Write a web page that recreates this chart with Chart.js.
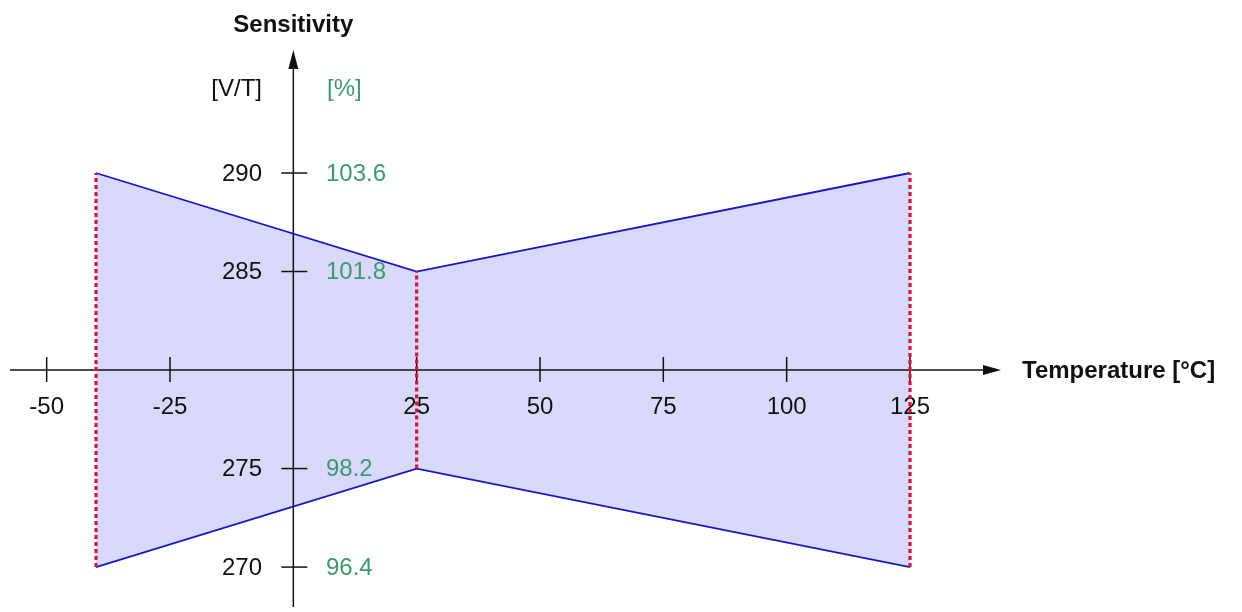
<!DOCTYPE html>
<html>
<head>
<meta charset="utf-8">
<script src="https://cdn.jsdelivr.net/npm/chart.js@4/dist/chart.umd.min.js"></script>
<style>
  html, body { margin: 0; padding: 0; background: #fff; }
  #wrap { width: 1242px; height: 612px; }
</style>
</head>
<body>
<div id="wrap"><canvas id="sensChart"></canvas></div>
<script>
// Sensitivity band vs temperature
const temps = [-40, 25, 125];
const upperSens = [290, 285, 290];
const lowerSens = [270, 275, 270];

const xTicks = [-50, -25, 25, 50, 75, 100, 125];
const yTicks = [270, 275, 285, 290];
const pctTicks = ['96.4', '98.2', '101.8', '103.6'];

const xTitle = 'Temperature [°C]';
const yTitle = 'Sensitivity';
const yUnit = '[V/T]';
const pctUnit = '[%]';

const FONT = '"Liberation Sans", Arial, sans-serif';
const GREEN = '#3c9a6c';

// dashed limit lines, one dataset per temperature
const limitSets = temps.map((t, i) => ({
    data: [{ x: t, y: lowerSens[i] }, { x: t, y: upperSens[i] }],
    borderColor: '#d4143c',
    borderWidth: 3.2,
    borderDash: [4, 3],
    pointRadius: 0,
    fill: false,
    order: 0
}));

const axesPlugin = {
    id: 'axes',
    beforeDatasetsDraw(chart) {
        const ctx = chart.ctx;
        const xs = chart.scales.x;
        const ys = chart.scales.y;
        const x0 = xs.getPixelForValue(0);
        const y0 = ys.getPixelForValue(280);

        ctx.save();
        ctx.strokeStyle = '#111';
        ctx.fillStyle = '#111';
        ctx.lineWidth = 1.5;

        // x axis + arrow
        ctx.beginPath();
        ctx.moveTo(10, y0);
        ctx.lineTo(985, y0);
        ctx.stroke();
        ctx.beginPath();
        ctx.moveTo(1001, y0);
        ctx.lineTo(983, y0 - 5);
        ctx.lineTo(983, y0 + 5);
        ctx.closePath();
        ctx.fill();

        // y axis + arrow
        ctx.beginPath();
        ctx.moveTo(x0, 607);
        ctx.lineTo(x0, 66);
        ctx.stroke();
        ctx.beginPath();
        ctx.moveTo(x0, 50);
        ctx.lineTo(x0 - 5, 69);
        ctx.lineTo(x0 + 5, 69);
        ctx.closePath();
        ctx.fill();

        // x ticks
        ctx.font = '24px ' + FONT;
        ctx.textAlign = 'center';
        ctx.textBaseline = 'middle';
        xTicks.forEach(v => {
            const px = xs.getPixelForValue(v);
            ctx.beginPath();
            ctx.moveTo(px, y0 - 13);
            ctx.lineTo(px, y0 + 12);
            ctx.stroke();
            ctx.fillText(String(v), px, y0 + 37);
        });

        // y ticks with both label sets
        yTicks.forEach((v, i) => {
            const py = ys.getPixelForValue(v);
            ctx.beginPath();
            ctx.moveTo(x0 - 12, py);
            ctx.lineTo(x0 + 14, py);
            ctx.stroke();
            ctx.fillStyle = '#111';
            ctx.textAlign = 'right';
            ctx.fillText(String(v), 262, py + 1);
            ctx.fillStyle = GREEN;
            ctx.textAlign = 'left';
            ctx.fillText(pctTicks[i], 326, py + 1);
        });

        // units
        ctx.fillStyle = '#111';
        ctx.textAlign = 'right';
        ctx.fillText(yUnit, 262, 89);
        ctx.fillStyle = GREEN;
        ctx.textAlign = 'left';
        ctx.fillText(pctUnit, 327, 89);

        // titles
        ctx.fillStyle = '#111';
        ctx.font = 'bold 24px ' + FONT;
        ctx.textAlign = 'center';
        ctx.fillText(yTitle, x0, 25);
        ctx.textAlign = 'left';
        ctx.fillText(xTitle, 1022, y0 + 1);
        ctx.restore();
    }
};

new Chart(document.getElementById('sensChart'), {
    type: 'line',
    data: {
        datasets: [
            ...limitSets,
            {
                data: temps.map((t, i) => ({ x: t, y: upperSens[i] })),
                borderColor: '#1818c0',
                borderWidth: 1.8,
                pointRadius: 0,
                tension: 0,
                backgroundColor: 'rgba(0, 0, 230, 0.15)',
                fill: '+1',
                order: 1
            },
            {
                data: temps.map((t, i) => ({ x: t, y: lowerSens[i] })),
                borderColor: '#1818c0',
                borderWidth: 1.8,
                pointRadius: 0,
                tension: 0,
                fill: false,
                order: 1
            }
        ]
    },
    options: {
        responsive: true,
        maintainAspectRatio: false,
        animation: false,
        layout: { padding: 0 },
        scales: {
            x: { type: 'linear', display: false, min: -59.46, max: 192.3 },
            y: { type: 'linear', display: false, min: 267.72, max: 298.78 }
        },
        plugins: {
            legend: { display: false },
            tooltip: { enabled: false },
            filler: { drawTime: 'beforeDatasetsDraw' }
        }
    },
    plugins: [axesPlugin]
});
</script>
</body>
</html>
